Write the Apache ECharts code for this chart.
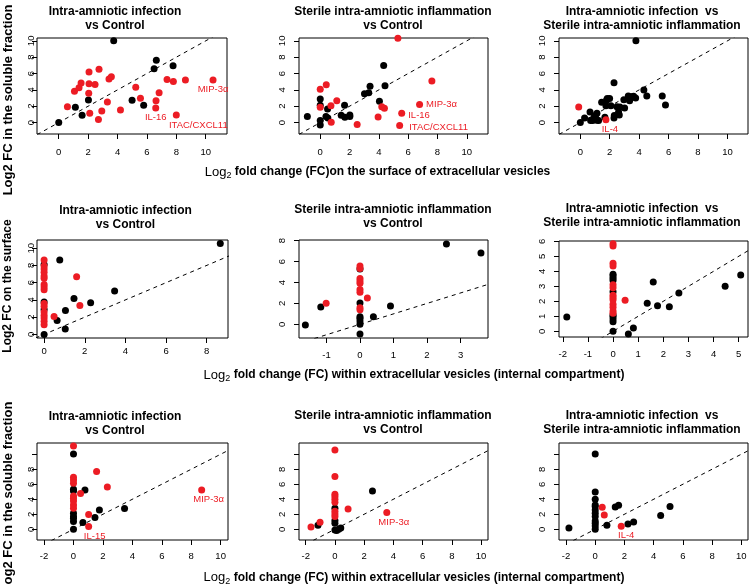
<!DOCTYPE html>
<html><head><meta charset="utf-8">
<script src="https://cdn.jsdelivr.net/npm/echarts@6/dist/echarts.min.js"></script>
<style>html,body{margin:0;padding:0;background:#fff}#c{width:750px;height:584px}</style>
</head><body><div id="c"></div>
<script>
// ---------- DATA ----------
const panelTitles = [
  "Intra-amniotic infection\nvs Control",
  "Sterile intra-amniotic inflammation\nvs Control",
  "Intra-amniotic infection  vs\nSterile intra-amniotic inflammation",
  "Intra-amniotic infection\nvs Control",
  "Sterile intra-amniotic inflammation\nvs Control",
  "Intra-amniotic infection  vs\nSterile intra-amniotic inflammation",
  "Intra-amniotic infection\nvs Control",
  "Sterile intra-amniotic inflammation\nvs Control",
  "Intra-amniotic infection  vs\nSterile intra-amniotic inflammation"
];
const xTitleRow1 = " fold change (FC)on the surface of extracellular vesicles";
const xTitleRow23 = " fold change (FC) within extracellular vesicles (internal compartment)";
const yTitles = ["Log2 FC in the soluble fraction", "Log2 FC on the surface", "Log2 FC in the soluble fraction"];

// axis ranges [xmin,xmax,ymin,ymax]
const ranges = [
  [-1.48, 11.45, -1.4, 10.35], [-1.45, 11.45, -1.4, 10.35], [-1.45, 11.4, -1.4, 10.35],
  [-0.35, 9.05, -0.42, 10.95], [-1.82, 3.82, -1.31, 8.07], [-2.15, 5.37, -0.38, 6.02],
  [-2.48, 10.5, -1.43, 11.5], [-2.46, 10.48, -1.43, 11.5], [-2.48, 10.46, -1.43, 11.5]
];
const xTicks = [
  [0,2,4,6,8,10],[0,2,4,6,8,10],[0,2,4,6,8,10],
  [0,2,4,6,8],[-1,0,1,2,3],[-2,-1,0,1,2,3,4,5],
  [-2,0,2,4,6,8,10],[-2,0,2,4,6,8,10],[-2,0,2,4,6,8,10]
];
const yTicks = [
  [0,2,4,6,8,10],[0,2,4,6,8,10],[0,2,4,6,8,10],
  [0,2,4,6,8,10],[0,2,4,6,8],[0,1,2,3,4,5,6],
  [0,2,4,6,8,10],[0,2,4,6,8,10],[0,2,4,6,8,10]
];
const yTickLabels = [
  [0,2,4,6,8,10],[0,2,4,6,8,10],[0,2,4,6,8,10],
  [0,2,4,6,8,10],[0,2,4,6,8],[0,1,2,3,4,5,6],
  [0,2,4,6,8],[0,2,4,6,8],[0,2,4,6,8]
];

const p1Black = [[0,0],[1.13,1.87],[1.59,0.89],[2.02,2.76],[3.74,10.0],[4.99,2.72],[5.78,2.11],[6.49,6.59],[6.64,7.64],[7.78,6.95]];
const p1Red = [[0.59,1.95],[1.07,3.82],[1.38,4.27],[1.52,4.84],[2.06,6.18],[2.06,4.76],[2.04,3.58],[2.11,1.14],[2.47,4.67],[2.74,6.54],[2.70,0.37],[2.93,1.42],[3.31,2.52],[3.42,5.33],[3.58,5.61],[4.20,1.54],[5.24,4.31],[5.56,2.97],[6.62,2.68],[6.60,1.79,"IL-16"],[6.83,3.66],[7.37,5.28],[7.80,5.04],[8.62,5.20],[8.00,0.93,"ITAC/CXCL11"],[10.50,5.20,"MIP-3α"]];

const p2Black = [[-0.88,0.73],[0,2.89],[0,2.11],[0,0.24],[0,-0.30],[0.39,0.73],[0.52,0.57],[0.5,1.67],[1.43,0.89],[1.66,2.11],[1.68,0.65],[2.02,0.93],[2.02,0.73],[3.02,3.54],[3.31,3.66],[3.40,4.43],[4.33,6.99],[4.04,2.60],[4.42,4.51]];
const p2Red = [[0,4.07],[0,1.87],[0.41,4.63],[0.73,2.07],[0.75,0.04],[1.13,2.68],[2.52,-0.24],[3.95,0.69],[4.20,1.95],[4.38,1.75],[5.3,10.33],[5.42,-0.37,"ITAC/CXCL11"],[5.56,1.14,"IL-16"],[6.78,2.20,"MIP-3α"],[7.62,5.08]];

const p3Black = [[0,0],[0.29,0.57],[0.66,1.30],[0.70,0.24],[0.84,0.24],[0.93,0.65],[1.02,0.33],[1.04,0.89],[1.13,1.14],[1.15,0.28],[1.24,0.24],[1.45,2.48],[1.67,0.65],[1.79,2.76],[1.83,2.93],[1.99,2.93],[2.08,2.07],[1.74,2.07],[2.29,4.88],[2.29,0.57],[2.31,0.85],[2.49,1.95],[2.65,0.93],[2.69,1.91],[2.60,1.30],[2.96,2.80],[3.01,1.79],[3.26,3.25],[3.35,2.68],[3.44,3.17],[3.62,3.21],[3.76,3.01],[3.78,10.0],[4.32,3.98],[4.52,3.25],[5.57,3.25],[5.79,2.15]];
const p3Red = [[-0.11,1.91],[1.74,0.33,"IL-4"]];

const p4Black = [[0,0],[0,2.88],[0,3.77],[0,8.1],[0.64,1.60],[0.77,8.64],[1.05,2.76],[1.04,0.62],[1.47,4.16],[2.29,3.66],[3.47,5.02],[8.67,10.54]];
const p4Red = [[0,8.64],[0,7.94],[0,7.59],[0,7.2],[0,6.77],[0,6.5],[0,5.8],[0,5.49],[0,5.18],[0,3.58],[0,3.27],[0,2.61],[0,2.22],[0,1.91],[0,1.52],[0,1.13],[0.49,2.06],[1.60,6.69],[1.76,3.35]];

const p5Black = [[-1.63,-0.06],[-1.17,1.66],[0,0],[0,-0.92],[0,0.32],[0,0.57],[0,0.73],[0,2.04],[0,5.29],[0.40,0.73],[0.91,1.75],[2.58,7.68],[3.61,6.82]];
const p5Red = [[-1.01,2.01],[0.22,2.52],[0,5.57],[0,5.35],[0,4.39],[0,4.14],[0,3.92],[0,3.34],[0,3.06],[0,1.59],[0,1.40]];

const p6Black = [[-1.84,0.96],[0,0],[0,0.64],[0,0.82],[0,0.98],[0,1.09],[0,2.64],[0,3.38],[0,3.53],[0,3.69],[0,3.8],[0.61,-0.18],[0.81,0.22],[1.36,1.87],[1.60,3.29],[1.77,1.71],[2.24,1.64],[2.62,2.56],[4.46,3.0],[5.08,3.76]];
const p6Red = [[0,5.84],[0,5.69],[0,4.53],[0,4.36],[0,3.1],[0,2.9],[0,2.4],[0,2.25],[0,2.1],[0,1.8],[0,1.6],[0,1.35],[0,1.2],[0.48,2.07]];

const p7Black = [[0,0],[0,10.04],[0,5.11],[0,5.33],[0,2.13],[0,1.47],[0,1.02],[0,1.69],[0.64,0.89],[0.78,5.24],[1.46,1.56],[1.76,2.58],[3.47,2.76]];
const p7Red = [[0,11.1],[0,6.93],[0,6.58],[0,6.13],[0,4.44],[0,4.13],[0,3.78],[0,3.24],[0,2.8],[0.48,4.76],[1.03,0.36,"IL-15"],[1.03,1.96],[1.57,7.69],[2.30,5.64],[8.71,5.24,"MIP-3α"]];

const p8Black = [[-1.16,0.53],[0,0.8],[0,1.16],[0,-0.09],[0,2.8],[0.12,-0.18],[0.26,0],[0.4,0.18],[2.57,5.11]];
const p8Red = [[-1.64,0.31],[-1.02,0.93],[0,10.58],[0,7.02],[0,4.67],[0,4.36],[0,4.0],[0,3.6],[0,2.4],[0,2.04],[0,1.69],[0.9,2.71],[3.55,2.22,"MIP-3α"]];

const p9Black = [[-1.8,0.18],[0,10.04],[0,0],[0,4.98],[0,4.0],[0,3.24],[0,3.02],[0,2.58],[0,2.13],[0,1.69],[0,1.11],[0,0.8],[0,0.44],[0.8,0.53],[1.37,2.98],[1.6,3.2],[2.24,0.71],[2.63,0.98],[4.48,1.82],[5.12,3.02]];
const p9Red = [[0.48,2.93],[0.62,1.91],[1.78,0.40,"IL-4"]];

const blacks = [p1Black,p2Black,p3Black,p4Black,p5Black,p6Black,p7Black,p8Black,p9Black];
const reds = [p1Red,p2Red,p3Red,p4Red,p5Red,p6Red,p7Red,p8Red,p9Red];

// ---------- LAYOUT / STYLE ----------
const FF = '"Liberation Sans", Arial, Helvetica, sans-serif';
const RED = '#ec1c24';
const grids = [
  [37,38,190,96],[299,38,189,96],[559,38,189,96],
  [37,240,191,98],[299,240,189,98],[559,241,189,96],
  [37,443,191,97],[299,443,189,97],[559,443,189,97]
];
const xLabelMargin = [13.5,13.5,13.5, 8.5,12,12, 11,11,11];
const yLabelMargin = [1,12,12, 1,12,12, 1,12,12];
const titlePos = [[115,19],[393,19],[642,19],[125.5,218],[393,217],[642,216],[115,424],[393,423],[642,423]];
function labelPlacement(p, name){
  if (p === 1) return {position:'right', distance:3, offset:[name==='ITAC/CXCL11'?3:0, name==='MIP-3α'?0:2]};
  if (p === 0 && name === 'ITAC/CXCL11') return {position:'bottom', distance:1, offset:[22,1]};
  if (p === 0) return {position:'bottom', distance:1, offset:[0,0]};
  if (p === 2) return {position:'bottom', distance:1, offset:[4,0]};
  if (p === 6 && name === 'IL-15') return {position:'bottom', distance:1, offset:[6,0]};
  if (p === 8) return {position:'bottom', distance:1, offset:[5,0]};
  return {position:'bottom', distance:1, offset:[7,0]};
}

const option = {
  animation:false,
  backgroundColor:'#fff',
  grid:[], xAxis:[], yAxis:[], series:[], graphic:[]
};
for (let i=0;i<9;i++){
  const g = grids[i], r = ranges[i];
  option.grid.push({left:g[0], top:g[1], width:g[2], height:g[3], show:true, borderColor:'#000', borderWidth:1, backgroundColor:'transparent', containLabel:false, outerBoundsMode:'none'});
  option.xAxis.push({gridIndex:i, type:'value', min:r[0], max:r[1], position:'bottom',
    axisLine:{show:false, onZero:false}, splitLine:{show:false},
    axisTick:{show:true, inside:false, length:5, customValues:xTicks[i], lineStyle:{color:'#000', width:1}},
    axisLabel:{customValues:xTicks[i], margin:xLabelMargin[i], fontSize:9.5, color:'#000', fontFamily:FF}});
  option.yAxis.push({gridIndex:i, type:'value', min:r[2], max:r[3], position:'left',
    axisLine:{show:false, onZero:false}, splitLine:{show:false},
    axisTick:{show:true, inside:false, length:5, customValues:yTicks[i], lineStyle:{color:'#000', width:1}},
    axisLabel:{customValues:yTickLabels[i], rotate:90, margin:yLabelMargin[i], fontSize:9.5, color:'#000', fontFamily:FF}});
  const lo = Math.min(r[0], r[2]), hi = Math.max(r[1], r[3]);
  option.series.push({type:'line', xAxisIndex:i, yAxisIndex:i, data:[[lo,lo],[hi,hi]], symbol:'none', silent:true, clip:true, z:1,
    lineStyle:{color:'#000', width:1, type:[4,4]}});
  option.series.push({type:'scatter', xAxisIndex:i, yAxisIndex:i, data:blacks[i].map(d=>[d[0],d[1]]), symbolSize:7, itemStyle:{color:'#000', opacity:1}, z:2, silent:true});
  option.series.push({type:'scatter', xAxisIndex:i, yAxisIndex:i, symbolSize:7, itemStyle:{color:RED, opacity:1}, z:3, silent:true,
    data:reds[i].map(d=>{
      if (d.length>2){
        const pl = labelPlacement(i, d[2]);
        return {value:[d[0],d[1]], label:{show:true, formatter:d[2], position:pl.position, distance:pl.distance, offset:pl.offset, color:RED, fontSize:9.5, fontFamily:FF}};
      }
      return [d[0],d[1]];
    })});
  const tp = titlePos[i];
  option.graphic.push({type:'text', x:tp[0], y:tp[1], silent:true,
    style:{text:panelTitles[i], font:'bold 12px '+FF, textAlign:'center', textVerticalAlign:'middle', lineHeight:14, fill:'#000'}});
}
// x axis titles with subscript 2
const measCtx = document.createElement('canvas').getContext('2d');
function xTitle(cx, cy, rest){
  const parts = [['Log','13px '+FF,0],['2','9px '+FF,4],[rest,'bold 12px '+FF,0]];
  let widths = parts.map(p=>{measCtx.font=p[1]; return measCtx.measureText(p[0]).width;});
  let total = widths.reduce((a,b)=>a+b,0);
  let x = cx - total/2;
  parts.forEach((p,k)=>{
    option.graphic.push({type:'text', x:x, y:cy+p[2], silent:true, style:{text:p[0], font:p[1], textAlign:'left', textVerticalAlign:'middle', fill:'#000'}});
    x += widths[k];
  });
}
xTitle(377.5, 172, xTitleRow1);
xTitle(414, 375, xTitleRow23);
xTitle(414, 577.5, xTitleRow23);
const yTitlePos = [[8,100,13],[8,286,12],[8,497,13]];
yTitles.forEach((t,k)=>{
  option.graphic.push({type:'text', x:yTitlePos[k][0], y:yTitlePos[k][1], rotation:Math.PI/2, silent:true,
    style:{text:t, font:'bold '+yTitlePos[k][2]+'px '+FF, textAlign:'center', textVerticalAlign:'middle', fill:'#000'}});
});

const chart = echarts.init(document.getElementById('c'), null, {renderer:'canvas'});
chart.setOption(option);
</script>
</body></html>
